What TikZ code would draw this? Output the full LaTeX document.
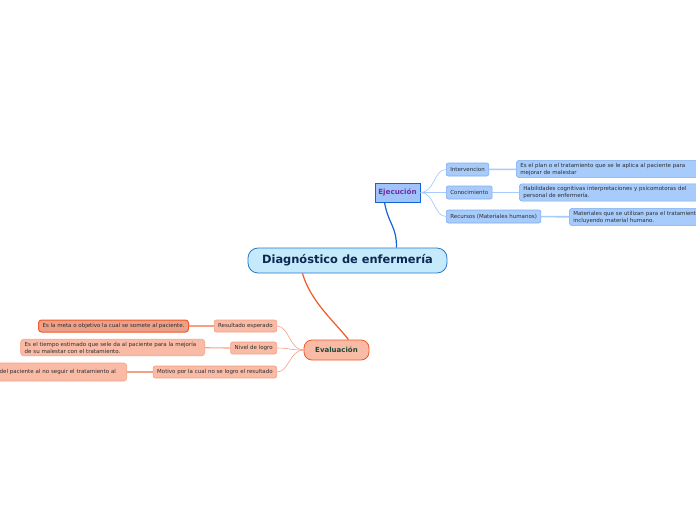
\documentclass[tikz,border=0pt]{standalone}
\usepackage{fontspec}
\setmainfont{DejaVu Sans}
\usetikzlibrary{positioning}
\definecolor{CoreFill}{RGB}{197, 234, 251}
\definecolor{CoreLine}{RGB}{40, 120, 205}
\definecolor{CoreText}{RGB}{12, 40, 80}
\definecolor{EjeFill}{RGB}{160, 196, 250}
\definecolor{EjeLine}{RGB}{20, 100, 215}
\definecolor{EjeText}{RGB}{112, 48, 160}
\definecolor{BlueLeaf}{RGB}{167, 203, 250}
\definecolor{BlueEdge}{RGB}{125, 172, 240}
\definecolor{EvaFill}{RGB}{249, 187, 166}
\definecolor{EvaLine}{RGB}{240, 88, 40}
\definecolor{EvaEdge}{RGB}{246, 160, 130}
\definecolor{EvaText}{RGB}{25, 75, 55}
\definecolor{LeafText}{RGB}{45, 45, 45}
\definecolor{MetaFill}{RGB}{236, 160, 136}

\begin{document}
\begin{tikzpicture}[x=1pt,y=-1pt,
    core/.style={draw=CoreLine,fill=CoreFill,line width=0.8pt,rounded corners=10pt,
      minimum width=199pt,minimum height=25pt,text=CoreText,
      font=\fontsize{11.4}{13}\selectfont\bfseries},
    ejebox/.style={draw=EjeLine,fill=EjeFill,line width=1pt,
      minimum width=45pt,minimum height=19pt,text=EjeText,inner xsep=2pt,
      font=\fontsize{7.2}{8.5}\selectfont\bfseries},
    evabox/.style={draw=EvaLine,fill=EvaFill,line width=0.8pt,rounded corners=8pt,
      minimum width=65pt,minimum height=20pt,text=EvaText,
      font=\fontsize{7}{8.5}\selectfont\bfseries},
    bluetopic/.style={draw=BlueEdge,fill=BlueLeaf,rounded corners=2pt,line width=0.6pt,
      minimum height=13pt,inner xsep=4pt,inner ysep=0pt,text=LeafText,
      font=\fontsize{5.5}{7}\selectfont},
    bluenote/.style={bluetopic,rounded corners=3pt,align=left,inner ysep=2.5pt},
    redtopic/.style={draw=EvaEdge,fill=EvaFill,rounded corners=2pt,line width=0.6pt,
      minimum height=12pt,inner xsep=4pt,inner ysep=0pt,text=LeafText,
      font=\fontsize{5.5}{7}\selectfont},
    rednote/.style={redtopic,rounded corners=3pt,align=left,inner ysep=2.5pt},
    bluelink/.style={draw=BlueLeaf,line width=0.7pt},
    redlink/.style={draw=EvaEdge,line width=0.6pt}]
  \useasboundingbox (0,0) rectangle (696,520);

  % main topics
  \node[core] (diag) at (347.5,260.5) {Diagnóstico de enfermería};
  \node[ejebox] (ejec) at (397.5,192.5) {Ejecución};
  \node[evabox] (eval) at (336.5,350) {Evaluación};

  % Ejecucion branch
  \node[bluetopic,anchor=west] (interv) at (446,169.5) {Intervencion};
  \node[bluetopic,anchor=west] (conoc) at (446,192.5) {Conocimiento};
  \node[bluetopic,anchor=west] (recur) at (446,216.5) {Recursos (Materiales humanos)};
  \node[bluenote,anchor=west,text width=190pt] (plan) at (516,169) {Es el plan o el tratamiento que se le aplica al paciente para\\mejorar de malestar};
  \node[bluenote,anchor=west,text width=190pt] (habil) at (519,192.5) {Habilidades cognitivas interpretaciones y psicomotoras del\\personal de enfermería.};
  \node[bluenote,anchor=west,text width=160pt] (mater) at (569,217) {Materiales que se utilizan para el tratamiento\\incluyendo material humano.};

  % Evaluacion branch
  \node[redtopic,anchor=east] (resul) at (277,326) {Resultado esperado};
  \node[redtopic,anchor=east] (nivel) at (277,348) {Nivel de logro};
  \node[redtopic,anchor=east] (motiv) at (277,372) {Motivo por la cual no se logro el resultado};
  \node[rednote,anchor=east,draw=EvaLine,line width=1pt,fill=MetaFill] (meta) at (189,326) {Es la meta o objetivo la cual se somete al paciente.};
  \node[rednote,anchor=east,text width=176pt] (tiempo) at (205,347.5) {Es el tiempo estimado que sele da al paciente para la mejoría\\de su malestar con el tratamiento.};
  \node[rednote,anchor=east,text width=123pt,minimum height=18pt] (causa) at (127,372) {del paciente al no seguir el tratamiento al};

  % connectors
  \draw[EjeLine,line width=1.2pt] ([xshift=49pt]diag.north) .. controls +(0,-22) and +(4,22) .. ([xshift=-13pt]ejec.south);
  \draw[EvaLine,line width=1.2pt] ([xshift=-45pt]diag.south) .. controls +(8,28) and +(-14,-18) .. ([xshift=12pt]eval.north);
  \foreach \t in {interv,conoc,recur}
    \draw[bluelink] (ejec.east) .. controls +(14,0) and +(-12,0) .. (\t.west);
  \draw[bluelink,line width=1.6pt] (interv) -- (plan);
  \draw[bluelink,line width=1.6pt] (conoc) -- (habil);
  \draw[bluelink,line width=1.6pt] (recur) -- (mater);
  \foreach \t in {resul,nivel,motiv}
    \draw[redlink] (eval.west) .. controls +(-14,0) and +(12,0) .. (\t.east);
  \draw[redlink,line width=1.2pt] (resul) -- (meta);
  \draw[redlink,line width=1.2pt] (nivel) -- (tiempo);
  \draw[redlink,line width=1.2pt] (motiv) -- (causa);
\end{tikzpicture}
\end{document}
